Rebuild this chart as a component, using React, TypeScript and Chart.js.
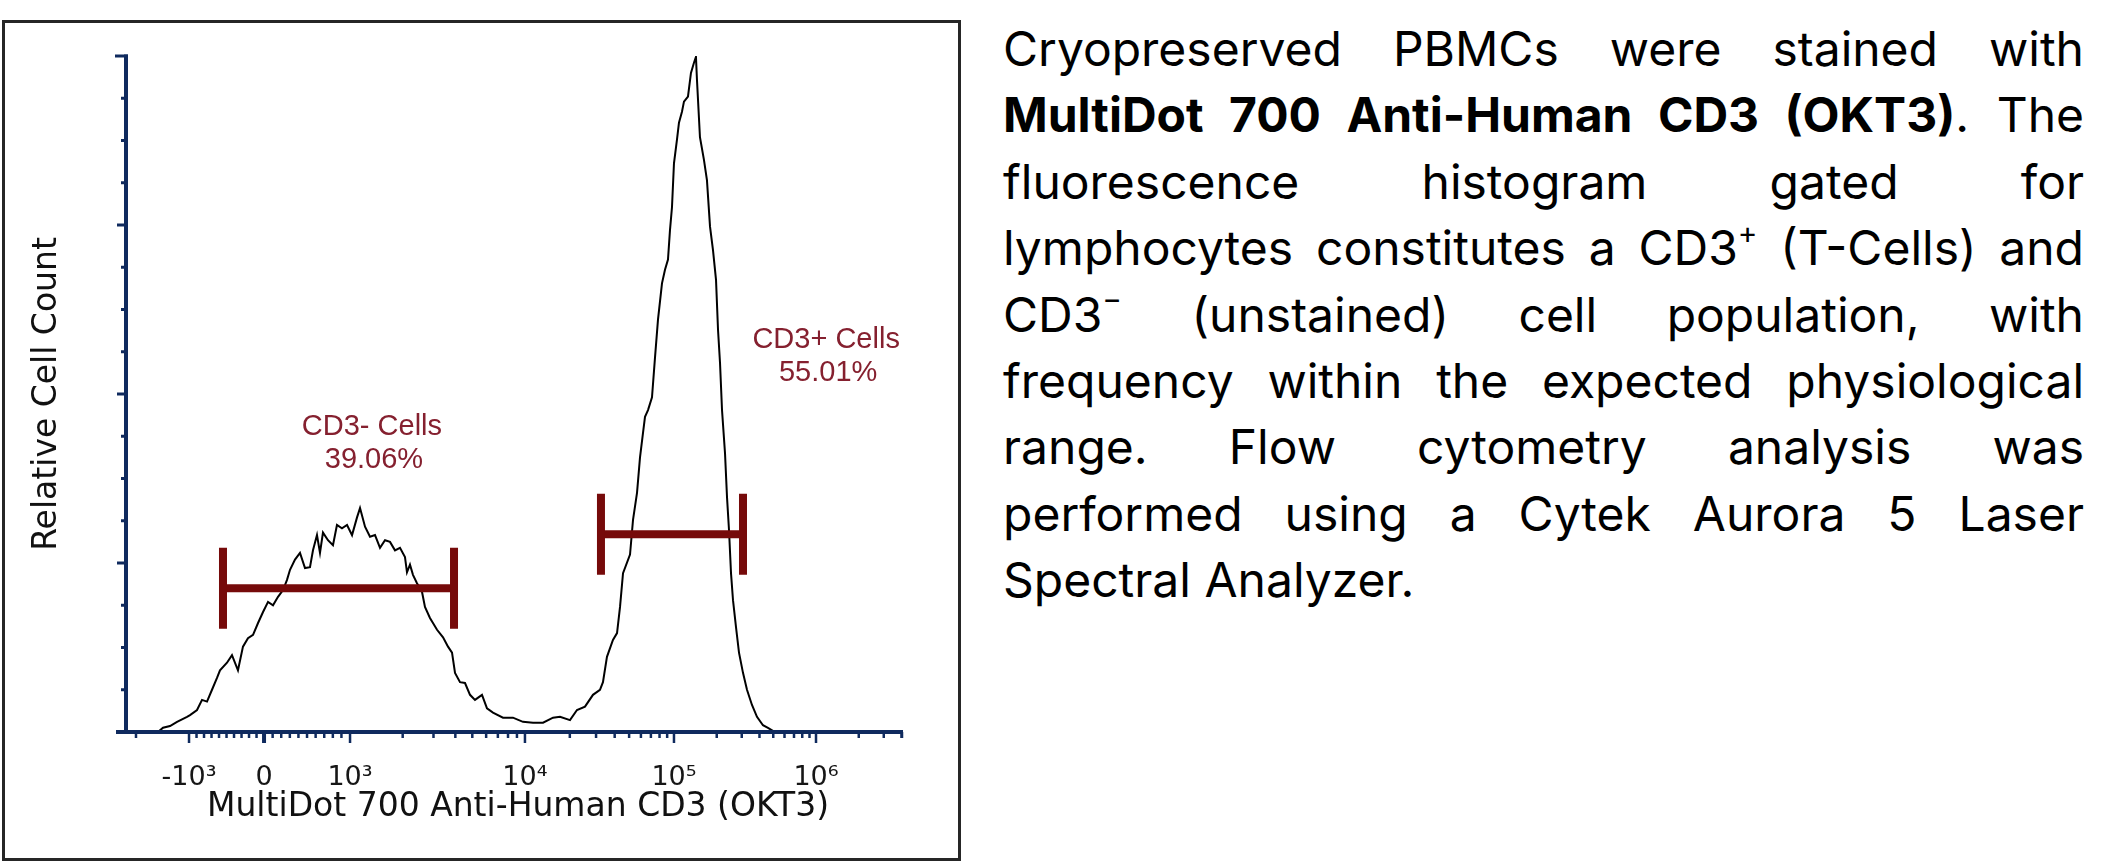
import { useEffect, useRef } from "react";
import { Chart, registerables } from "chart.js";

Chart.register(...registerables);

// Histogram: display channel (0–1024, biexponential display) vs relative cell count
const CHANNELS = [
  54.6, 61.2, 70.3, 79.4, 85.9, 92.4, 96.3, 105.4, 111.9, 118.4,
  124.9, 131.4, 135.3, 144.4, 150.9, 158.7, 165.2, 171.7, 178.3, 184.8,
  191.3, 197.8, 204.3, 210.8, 217.3, 222.5, 226.4, 232.9, 239.4, 245.9,
  252.4, 256.3, 261.5, 265.4, 269.3, 275.8, 282.3, 287.5, 294.0, 300.6,
  307.1, 313.6, 317.5, 324.0, 330.5, 337.0, 343.5, 350.0, 356.5, 363.0,
  369.5, 376.0, 378.6, 382.5, 386.4, 391.6, 398.1, 402.0, 408.5, 417.7,
  425.5, 432.0, 437.2, 441.1, 447.6, 454.1, 460.6, 467.1, 476.2, 482.7,
  490.5, 503.5, 516.5, 529.5, 542.6, 555.6, 568.6, 577.7, 590.7, 599.8,
  610.2, 620.6, 629.7, 633.6, 638.8, 646.6, 651.9, 655.8, 659.7, 668.8,
  672.7, 677.9, 681.8, 685.7, 688.3, 692.2, 697.4, 701.3, 705.2, 710.4,
  714.3, 718.2, 720.8, 723.4, 726.0, 729.9, 732.5, 736.4, 739.0, 744.2,
  748.1, 752.0, 754.6, 755.9, 759.8, 765.0, 768.9, 772.9, 776.8, 780.7,
  783.3, 785.9, 788.5, 792.4, 795.0, 797.6, 800.2, 802.8, 806.7, 810.6,
  815.8, 821.0, 827.5, 834.0, 841.8, 848.3, 857.4,
];
const COUNTS = [
  0, 5, 7, 12, 15, 18, 20, 26, 38, 36,
  50, 64, 73, 82, 91, 73, 101, 111, 115, 129,
  142, 154, 150, 160, 168, 180, 192, 204, 212, 194,
  195, 215, 233, 212, 236, 227, 221, 245, 241, 245,
  233, 254, 265, 243, 231, 233, 218, 227, 225, 215,
  218, 207, 189, 198, 186, 176, 166, 148, 135, 121,
  112, 101, 94, 70, 59, 58, 44, 38, 44, 28,
  23, 17, 17, 12, 11, 11, 17, 18, 14, 26,
  30, 44, 50, 59, 89, 109, 117, 148, 188, 210,
  251, 283, 325, 354, 373, 381, 396, 443, 488, 531,
  547, 559, 594, 621, 673, 701, 721, 734, 746, 752,
  780, 792, 799, 772, 704, 677, 653, 598, 570, 535,
  476, 437, 381, 330, 278, 239, 188, 156, 124, 94,
  70, 50, 32, 18, 8, 5, 0,
];

// Axis: labelled decades and their display channels
const DECADE_LABELS = ["-10³", "0", "10³", "10⁴", "10⁵", "10⁶"];
const DECADE_CHANNELS = [95.0, 192.6, 304.5, 532.1, 726.0, 910.8];
// Scale anchors (fluorescence value -> display channel)
const ANCHOR_VALUES = [-2000, -1000, 0, 1000, 10000, 100000, 1000000];
const ANCHOR_CHANNELS = [26.0, 95.0, 192.6, 304.5, 532.1, 726.0, 910.8];
const AXIS_START_CHANNEL = 0;
const AXIS_END_CHANNEL = 1024;
const ZERO_VALUE = 0;

// Y axis
const Y_MAX = 800;
const Y_MINOR_STEP = 50;
const Y_MAJOR_STEP = 200;

// Gates
const GATE_NAMES = ["CD3- Cells", "CD3+ Cells"];
const GATE_PERCENTS = ["39.06%", "55.01%"];
const GATE_FROM = [139.2, 631.0];
const GATE_TO = [439.8, 815.8];
const GATE_LEVEL = [170, 234];
const GATE_LABEL_CHANNEL = [333, 924];
const GATE_LABEL_COUNT = [352, 454];

const AXIS_COLOR = "#0f2a5e";
const GATE_COLOR = "#760a0a";
const GATE_TEXT_COLOR = "#85202f";

function channelOf(v: number): number {
  const n = ANCHOR_VALUES.length;
  if (v >= 1000) {
    const lg = Math.log10(v);
    for (let i = 3; i < n - 1; i++) {
      const a = Math.log10(ANCHOR_VALUES[i]);
      const b = Math.log10(ANCHOR_VALUES[i + 1]);
      if (lg <= b) {
        return ANCHOR_CHANNELS[i] + ((lg - a) / (b - a)) * (ANCHOR_CHANNELS[i + 1] - ANCHOR_CHANNELS[i]);
      }
    }
    const a = Math.log10(ANCHOR_VALUES[n - 2]);
    const b = Math.log10(ANCHOR_VALUES[n - 1]);
    return ANCHOR_CHANNELS[n - 1] + ((lg - b) / (b - a)) * (ANCHOR_CHANNELS[n - 1] - ANCHOR_CHANNELS[n - 2]);
  }
  for (let i = 0; i < 3; i++) {
    const a = ANCHOR_VALUES[i];
    const b = ANCHOR_VALUES[i + 1];
    if (v <= b) {
      return ANCHOR_CHANNELS[i] + ((v - a) / (b - a)) * (ANCHOR_CHANNELS[i + 1] - ANCHOR_CHANNELS[i]);
    }
  }
  return ANCHOR_CHANNELS[3];
}

function minorTickValues(): number[] {
  const out: number[] = [-2000];
  for (let k = -900; k <= 900; k += 100) if (k !== 0) out.push(k);
  for (let d = 3; d <= 5; d++) for (let k = 2; k <= 9; k++) out.push(k * Math.pow(10, d));
  out.push(2e6, 3e6, 4e6);
  return out;
}

const overlayPlugin = {
  id: "flowOverlay",
  afterDatasetsDraw(chart: any) {
    const { ctx, chartArea, scales } = chart;
    const xs = scales.x;
    const ys = scales.y;
    ctx.save();

    const axisX = chartArea.left - 1;
    const axisY = chartArea.bottom;

    // X axis line
    ctx.strokeStyle = AXIS_COLOR;
    ctx.lineCap = "butt";
    ctx.lineWidth = 4;
    ctx.beginPath();
    ctx.moveTo(xs.getPixelForValue(AXIS_START_CHANNEL), axisY);
    ctx.lineTo(xs.getPixelForValue(AXIS_END_CHANNEL), axisY);
    ctx.stroke();

    // X minor ticks
    ctx.lineWidth = 2.5;
    for (const v of minorTickValues()) {
      const px = xs.getPixelForValue(channelOf(v));
      ctx.beginPath();
      ctx.moveTo(px, axisY);
      ctx.lineTo(px, axisY + 6);
      ctx.stroke();
    }
    // X major ticks
    for (const c of DECADE_CHANNELS) {
      const px = xs.getPixelForValue(c);
      ctx.lineWidth = c === channelOf(ZERO_VALUE) ? 4 : 2.5;
      ctx.beginPath();
      ctx.moveTo(px, axisY);
      ctx.lineTo(px, axisY + 11);
      ctx.stroke();
    }
    // end tick
    ctx.lineWidth = 2.5;
    const endPx = xs.getPixelForValue(AXIS_END_CHANNEL) - 1;
    ctx.beginPath();
    ctx.moveTo(endPx, axisY);
    ctx.lineTo(endPx, axisY + 6);
    ctx.stroke();

    // Y axis line
    const topPx = ys.getPixelForValue(Y_MAX);
    ctx.lineWidth = 4;
    ctx.beginPath();
    ctx.moveTo(axisX, axisY);
    ctx.lineTo(axisX, topPx - 1.5);
    ctx.stroke();

    // Y ticks
    ctx.lineWidth = 3;
    for (let v = Y_MINOR_STEP; v <= Y_MAX; v += Y_MINOR_STEP) {
      const py = ys.getPixelForValue(v);
      const major = v % Y_MAJOR_STEP === 0;
      const len = v === Y_MAX ? 11 : major ? 9 : 5;
      ctx.beginPath();
      ctx.moveTo(axisX + (v === Y_MAX ? 2 : 0), py);
      ctx.lineTo(axisX - len, py);
      ctx.stroke();
    }

    // Gates
    ctx.strokeStyle = GATE_COLOR;
    for (let i = 0; i < GATE_NAMES.length; i++) {
      const x1 = xs.getPixelForValue(GATE_FROM[i]);
      const x2 = xs.getPixelForValue(GATE_TO[i]);
      const gy = ys.getPixelForValue(GATE_LEVEL[i]);
      ctx.lineWidth = 8;
      ctx.beginPath();
      ctx.moveTo(x1, gy);
      ctx.lineTo(x2, gy);
      ctx.stroke();
      ctx.beginPath();
      ctx.moveTo(x1, gy - 40.5);
      ctx.lineTo(x1, gy + 40.5);
      ctx.moveTo(x2, gy - 40.5);
      ctx.lineTo(x2, gy + 40.5);
      ctx.stroke();

      const lx = xs.getPixelForValue(GATE_LABEL_CHANNEL[i]);
      const ly = ys.getPixelForValue(GATE_LABEL_COUNT[i]);
      ctx.fillStyle = GATE_TEXT_COLOR;
      ctx.font = '29px "Liberation Sans", Arial, sans-serif';
      ctx.textAlign = "center";
      ctx.textBaseline = "alphabetic";
      ctx.fillText(GATE_NAMES[i], lx, ly);
      ctx.fillText(GATE_PERCENTS[i], lx + 2, ly + 33);
    }
    ctx.restore();
  },
};

function FlowHistogram() {
  const canvasRef = useRef<HTMLCanvasElement>(null);
  useEffect(() => {
    const canvas = canvasRef.current;
    if (!canvas) return;
    const chart = new Chart(canvas, {
      type: "line",
      data: {
        datasets: [
          {
            data: CHANNELS.map((c, i) => ({ x: c, y: COUNTS[i] })),
            borderColor: "#000000",
            borderWidth: 2,
            pointRadius: 0,
            tension: 0,
            fill: false,
          },
        ],
      },
      options: {
        responsive: false,
        animation: false,
        events: [],
        layout: { padding: { left: 24, right: 71, top: 56, bottom: 34 } },
        plugins: { legend: { display: false }, tooltip: { enabled: false } },
        scales: {
          x: {
            type: "linear",
            min: 14.3,
            max: 1031.8,
            grid: { display: false, drawTicks: false },
            border: { display: false },
            afterBuildTicks: (scale: any) => {
              scale.ticks = DECADE_CHANNELS.map((v) => ({ value: v }));
            },
            afterFit: (scale: any) => {
              scale.height = 100;
            },
            ticks: {
              autoSkip: false,
              maxRotation: 0,
              minRotation: 0,
              padding: 30,
              color: "#161616",
              font: { family: '"DejaVu Sans", Verdana, sans-serif', size: 27 },
              callback: (_v: any, idx: number) => DECADE_LABELS[idx],
            },
            title: {
              display: true,
              text: "MultiDot 700 Anti-Human CD3 (OKT3)",
              color: "#111111",
              font: { family: '"DejaVu Sans", Verdana, sans-serif', size: 33 },
              padding: { top: 4, bottom: 5 },
            },
          },
          y: {
            type: "linear",
            min: 0,
            max: Y_MAX,
            grid: { display: false, drawTicks: false },
            border: { display: false },
            ticks: { display: false },
            afterFit: (scale: any) => {
              scale.width = 103;
            },
            title: {
              display: true,
              text: "Relative Cell Count",
              color: "#111111",
              font: { family: '"DejaVu Sans", Verdana, sans-serif', size: 33 },
              padding: { top: 4, bottom: 4 },
            },
          },
        },
      },
      plugins: [overlayPlugin],
    } as any);
    return () => chart.destroy();
  }, []);
  return <canvas ref={canvasRef} width={980} height={866} style={{ display: "block", width: 980, height: 866 }} />;
}

const TEXT_LINES: { parts: { t: string; b?: boolean; sup?: string }[]; last?: boolean }[] = [
  { parts: [{ t: "Cryopreserved PBMCs were stained with" }] },
  { parts: [{ t: "MultiDot 700 Anti-Human CD3 (OKT3)", b: true }, { t: ". The" }] },
  { parts: [{ t: "fluorescence histogram gated for" }] },
  { parts: [{ t: "lymphocytes constitutes a CD3" }, { t: "", sup: "+" }, { t: " (T-Cells) and" }] },
  { parts: [{ t: "CD3" }, { t: "", sup: "−" }, { t: " (unstained) cell population, with" }] },
  { parts: [{ t: "frequency within the expected physiological" }] },
  { parts: [{ t: "range. Flow cytometry analysis was" }] },
  { parts: [{ t: "performed using a Cytek Aurora 5 Laser" }] },
  { parts: [{ t: "Spectral Analyzer." }], last: true },
];

export default function App() {
  return (
    <div style={{ position: "absolute", left: 0, top: 0, width: 2122, height: 866, background: "#ffffff", overflow: "hidden" }}>
      <div
        style={{
          position: "absolute",
          left: 2,
          top: 20,
          width: 959,
          height: 841,
          border: "3px solid #262626",
          boxSizing: "border-box",
        }}
      />
      <div style={{ position: "absolute", left: 0, top: 0 }}>
        <FlowHistogram />
      </div>
      <div
        style={{
          position: "absolute",
          left: 1003,
          top: 16,
          width: 1081,
          fontFamily: 'Inter, "Noto Sans", sans-serif',
          fontSize: 48,
          lineHeight: "66.4px",
          color: "#000",
        }}
      >
        {TEXT_LINES.map((line, i) => (
          <div
            key={i}
            style={{
              height: 66.4,
              whiteSpace: "nowrap",
              textAlign: line.last ? "left" : "justify",
              textAlignLast: line.last ? "left" : "justify",
            }}
          >
            {line.parts.map((p, j) =>
              p.sup ? (
                <span key={j} style={{ fontSize: "0.62em", position: "relative", top: "-0.75em" }}>
                  {p.sup}
                </span>
              ) : p.b ? (
                <b key={j}>{p.t}</b>
              ) : (
                <span key={j}>{p.t}</span>
              )
            )}
          </div>
        ))}
      </div>
    </div>
  );
}
